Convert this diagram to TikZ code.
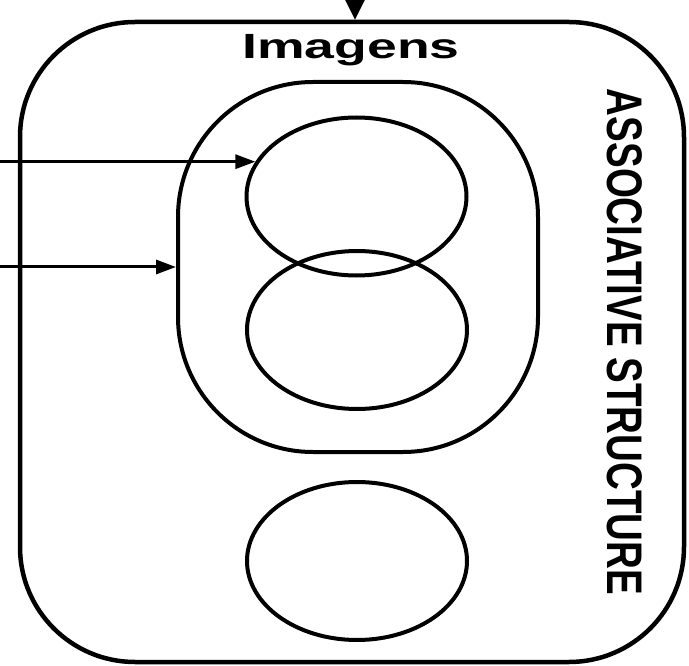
\documentclass[tikz,border=0pt]{standalone}
\usepackage{fontspec}
\setmainfont{Liberation Sans}
\usetikzlibrary{arrows.meta,shapes.geometric}

\begin{document}
\begin{tikzpicture}[x=1pt,y=-1pt,
  regionbox/.style={draw,line width=4.5pt,rounded corners=#1,inner sep=0pt},
  imgoval/.style={draw,ellipse,line width=4pt,minimum width=220pt,minimum height=158pt,inner sep=0pt},
  feed/.style={line width=3pt,-{Triangle[length=20pt,width=14pt]}}]
  \useasboundingbox (0,0) rectangle (689,666);
  \coordinate (origin) at (0,0);
  % boxes
  \node[regionbox=115pt,minimum width=664pt,minimum height=640pt] (assoc) at (352,342) {};
  \node[regionbox=135pt,line width=4pt,minimum width=360pt,minimum height=370pt] (pair) at (358,267) {};
  % images
  \node[imgoval] (imgA) at (356.5,196.5) {};
  \node[imgoval] (imgB) at (357,330) {};
  \node[imgoval] (imgC) at (357,561) {};
  % labels
  \node[font=\fontsize{35}{40}\selectfont\bfseries,xscale=1.53,anchor=base] (title) at (351,59) {Imagens};
  \node[font=\fontsize{50}{56}\selectfont\bfseries,rotate=-90,xscale=0.77] (label) at (625,342) {ASSOCIATIVE STRUCTURE};
  % inputs
  \coordinate (drop) at (355,0);
  \draw[feed,-{Triangle[length=20pt,width=19pt]}] (drop) -- (drop |- assoc.north);
  \coordinate (inA) at (imgA.161 -| origin);
  \draw[feed] (inA) -- (imgA.161);
  \coordinate (inB) at (pair.west -| origin);
  \draw[feed] (inB) -- (pair.west);
\end{tikzpicture}
\end{document}
